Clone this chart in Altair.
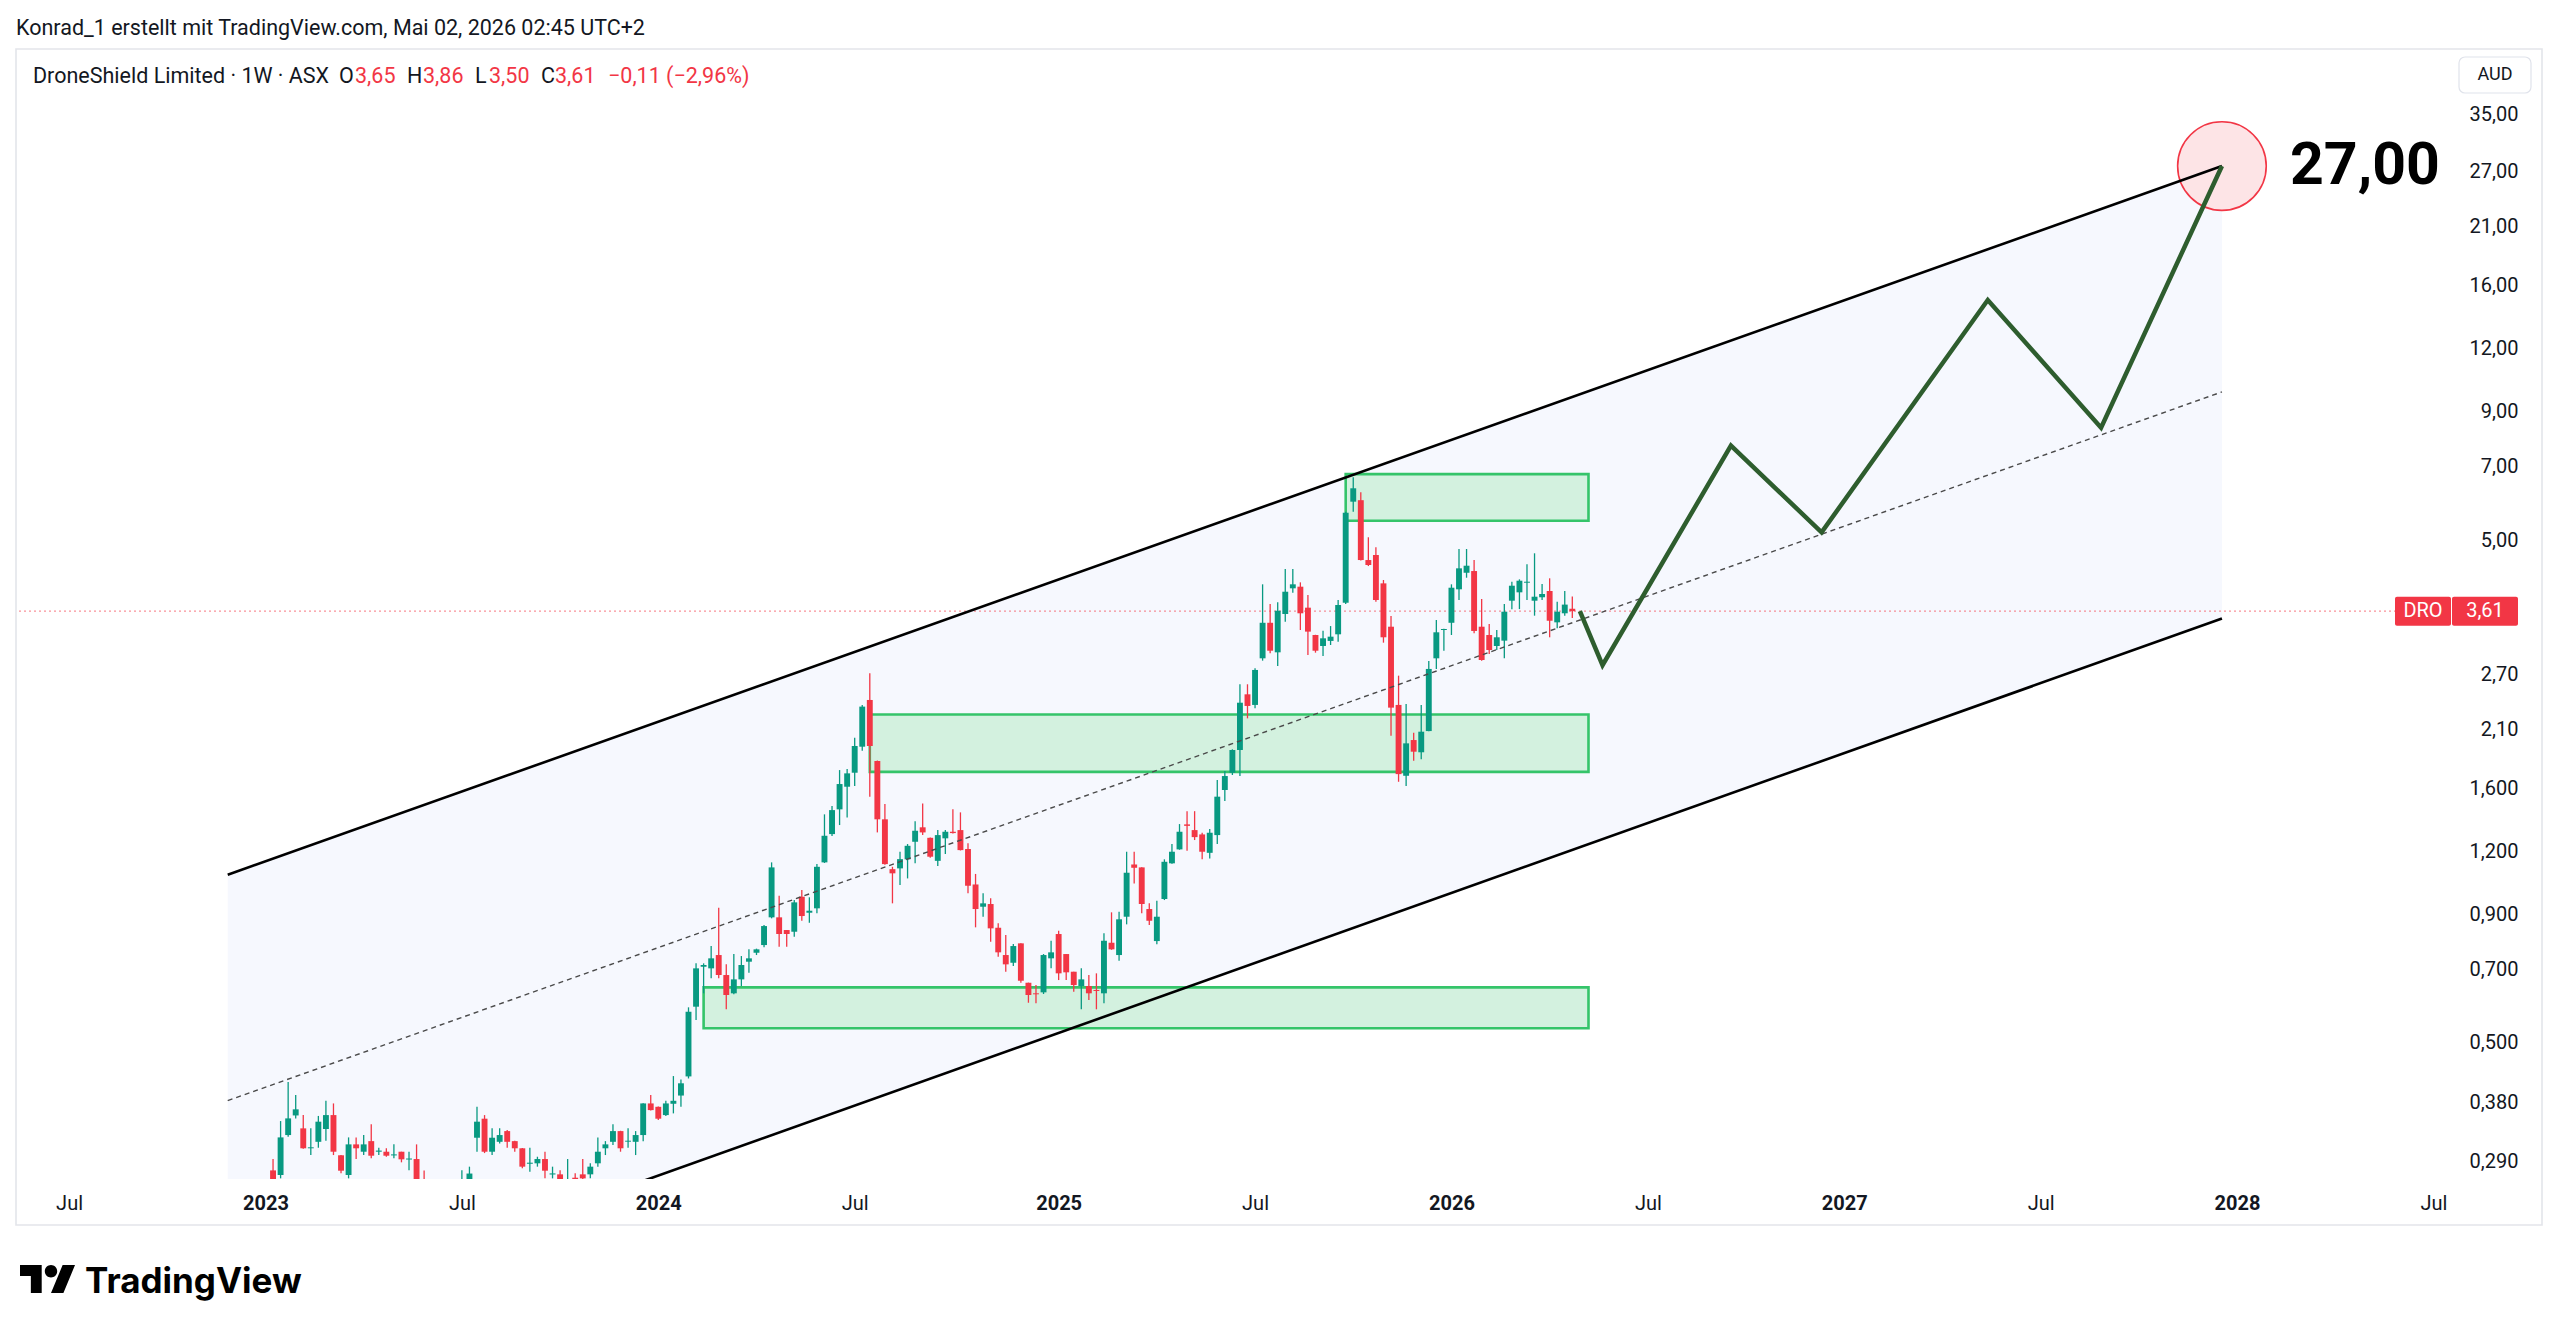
import altair as alt
import numpy as np
import pandas as pd

# ------------------------------------------------------------------ data
first_week = "2023-01-09"  # weekly bars, one per Monday

opens = [
    0.279, 0.2732, 0.328, 0.3588, 0.3382, 0.3087, 0.318, 0.3372, 0.3594, 0.299,
    0.2732, 0.3143, 0.3039, 0.319, 0.3039, 0.3039, 0.2988, 0.3039, 0.2932, 0.2939,
    0.262, 0.252, 0.248, 0.245, 0.252, 0.255, 0.262, 0.324, 0.3535, 0.3039,
    0.318, 0.334, 0.319, 0.3087, 0.2876, 0.2882, 0.2939, 0.2738, 0.274, 0.262,
    0.2698, 0.274, 0.274, 0.2882, 0.3087, 0.318, 0.334, 0.3182, 0.318, 0.328,
    0.3791, 0.3733, 0.3594, 0.3785, 0.393, 0.429, 0.5903, 0.7088, 0.7036, 0.7478,
    0.6824, 0.6276, 0.669, 0.7253, 0.7557, 0.7828, 0.8887, 0.8887, 0.8385, 0.832,
    0.9766, 0.9076, 0.9261, 1.143, 1.301, 1.457, 1.616, 1.723, 1.941, 2.404,
    1.818, 1.392, 1.108, 1.112, 1.159, 1.256, 1.342, 1.279, 1.151, 1.276,
    1.315, 1.325, 1.215, 1.033, 0.9329, 0.9445, 0.8473, 0.7478, 0.7219, 0.7889,
    0.6587, 0.6276, 0.6304, 0.7366, 0.8233, 0.7512, 0.6928, 0.6488, 0.6488, 0.6371,
    0.6276, 0.7911, 0.7478, 0.8912, 1.132, 1.117, 0.9231, 0.7972, 0.9664, 1.138,
    1.213, 1.36, 1.325, 1.299, 1.194, 1.295, 1.592, 1.723, 1.912, 2.467,
    2.35, 2.909, 3.423, 2.99, 3.563, 4.008, 4.038, 3.668, 3.237, 3.078,
    3.15, 3.247, 3.752, 5.959, 6.0, 4.562, 4.668, 4.1, 3.362, 2.35,
    1.699, 2.001, 1.892, 2.085, 2.909, 3.312, 3.423, 3.99, 4.304, 4.338,
    3.362, 3.237, 3.078, 3.154, 3.787, 3.935, 4.112, 3.787, 3.847, 3.959,
    3.43, 3.575, 3.65,
]
highs = [
    0.294, 0.3497, 0.4184, 0.3939, 0.3594, 0.3382, 0.358, 0.3837, 0.3791, 0.2995,
    0.3245, 0.3245, 0.328, 0.3448, 0.3095, 0.3087, 0.3143, 0.3039, 0.3039, 0.3143,
    0.279, 0.262, 0.258, 0.258, 0.262, 0.2793, 0.2838, 0.3733, 0.3594, 0.3382,
    0.3382, 0.3355, 0.3195, 0.3092, 0.3095, 0.297, 0.3039, 0.2838, 0.2793, 0.2939,
    0.2753, 0.2939, 0.2882, 0.3245, 0.319, 0.3448, 0.3345, 0.3382, 0.334, 0.3795,
    0.3939, 0.3738, 0.3837, 0.4297, 0.4231, 0.5886, 0.7199, 0.7199, 0.7792, 0.9286,
    0.7166, 0.7512, 0.7444, 0.7676, 0.770, 0.8579, 1.143, 0.9811, 0.839, 0.9619,
    1.007, 0.974, 1.134, 1.424, 1.479, 1.744, 1.752, 2.022, 2.35, 2.717,
    1.822, 1.493, 1.12, 1.2, 1.243, 1.379, 1.497, 1.281, 1.325, 1.325,
    1.457, 1.437, 1.247, 1.084, 0.9919, 0.9694, 0.8645, 0.8196, 0.7864, 0.7895,
    0.659, 0.6518, 0.7512, 0.7983, 0.8358, 0.7515, 0.693, 0.7036, 0.6824, 0.6877,
    0.8259, 0.9093, 0.9118, 1.2, 1.2, 1.118, 0.9475, 0.9588, 1.159, 1.243,
    1.362, 1.445, 1.445, 1.309, 1.331, 1.666, 1.736, 1.918, 2.583, 2.583,
    2.78, 4.082, 3.73, 3.759, 4.378, 4.378, 4.119, 3.887, 3.24, 3.301,
    3.372, 3.799, 5.692, 6.663, 6.221, 5.063, 4.836, 4.163, 3.531, 2.687,
    2.36, 2.069, 2.35, 2.874, 3.466, 3.33, 4.082, 4.798, 4.798, 4.562,
    3.817, 3.403, 3.312, 3.73, 4.131, 4.176, 4.473, 4.705, 4.088, 4.196,
    3.77, 3.959, 3.86,
]
lows = [
    0.262, 0.269, 0.3254, 0.354, 0.308, 0.2993, 0.3095, 0.3195, 0.2993, 0.2753,
    0.269, 0.2939, 0.2993, 0.2948, 0.2993, 0.297, 0.2948, 0.2895, 0.2793, 0.255,
    0.248, 0.242, 0.238, 0.24, 0.245, 0.25, 0.256, 0.3039, 0.302, 0.2993,
    0.3157, 0.3095, 0.3039, 0.2817, 0.2774, 0.2838, 0.269, 0.269, 0.258, 0.258,
    0.262, 0.262, 0.269, 0.2838, 0.2993, 0.3133, 0.3039, 0.3095, 0.2993, 0.319,
    0.3672, 0.3513, 0.358, 0.3622, 0.3733, 0.425, 0.5553, 0.6276, 0.6721, 0.6721,
    0.5833, 0.625, 0.6488, 0.6896, 0.7478, 0.7746, 0.8846, 0.7768, 0.7768, 0.8133,
    0.8749, 0.8669, 0.9051, 1.14, 1.289, 1.356, 1.404, 1.621, 1.906, 1.544,
    1.311, 1.13, 0.9475, 1.03, 1.062, 1.138, 1.295, 1.168, 1.124, 1.187,
    1.305, 1.207, 0.9919, 0.8489, 0.8912, 0.7947, 0.7421, 0.6928, 0.7111, 0.6587,
    0.6011, 0.5995, 0.6256, 0.7036, 0.6669, 0.6669, 0.6322, 0.5833, 0.6086, 0.5833,
    0.5995, 0.766, 0.7286, 0.8606, 1.038, 0.9051, 0.8579, 0.7853, 0.9619, 1.136,
    1.211, 1.205, 1.266, 1.159, 1.164, 1.243, 1.513, 1.705, 1.697, 2.21,
    2.314, 2.878, 2.977, 2.809, 3.439, 3.928, 3.312, 2.954, 2.985, 2.94,
    3.092, 3.14, 3.73, 5.692, 4.55, 4.438, 3.77, 3.125, 2.041, 1.653,
    1.621, 1.82, 1.832, 2.083, 2.771, 3.012, 3.237, 3.799, 4.207, 3.262,
    2.878, 2.967, 3.022, 2.909, 3.641, 3.644, 3.799, 3.536, 3.799, 3.203,
    3.337, 3.536, 3.50,
]
closes = [
    0.265, 0.3245, 0.354, 0.369, 0.3087, 0.3101, 0.3487, 0.3594, 0.3039, 0.2786,
    0.3143, 0.3087, 0.3143, 0.2984, 0.3055, 0.2984, 0.3002, 0.2935, 0.2946, 0.262,
    0.252, 0.248, 0.245, 0.252, 0.258, 0.266, 0.275, 0.3487, 0.3039, 0.324,
    0.328, 0.318, 0.3087, 0.2838, 0.289, 0.2939, 0.2786, 0.2752, 0.262, 0.268,
    0.2675, 0.269, 0.2838, 0.3039, 0.3143, 0.334, 0.3087, 0.3196, 0.328, 0.3791,
    0.3677, 0.3535, 0.3791, 0.3837, 0.4157, 0.5768, 0.7036, 0.7144, 0.7366, 0.6824,
    0.6227, 0.669, 0.7144, 0.7366, 0.7676, 0.8539, 1.117, 0.8233, 0.8233, 0.9518,
    0.894, 0.916, 1.12, 1.291, 1.452, 1.636, 1.718, 1.947, 2.332, 1.947,
    1.392, 1.134, 1.087, 1.16, 1.233, 1.321, 1.311, 1.173, 1.295, 1.315,
    1.307, 1.209, 1.027, 0.9231, 0.9475, 0.845, 0.7571, 0.7166, 0.7792, 0.6648,
    0.6227, 0.6248, 0.7478, 0.7571, 0.6877, 0.6909, 0.6518, 0.669, 0.6276, 0.6342,
    0.7983, 0.7676, 0.8807, 1.09, 1.115, 0.9445, 0.8749, 0.8912, 1.146, 1.2,
    1.315, 1.351, 1.283, 1.2, 1.309, 1.544, 1.697, 1.912, 2.374, 2.339,
    2.758, 3.423, 3.012, 3.617, 3.946, 4.082, 3.575, 3.287, 3.012, 3.188,
    3.212, 3.713, 5.665, 6.336, 4.562, 4.459, 3.799, 3.203, 2.321, 1.712,
    1.971, 1.897, 2.079, 2.771, 3.277, 3.327, 4.019, 4.392, 4.445, 3.297,
    2.887, 3.022, 3.203, 3.601, 4.056, 4.15, 4.131, 3.857, 3.905, 3.455,
    3.601, 3.72, 3.61,
]

# parallel channel (drawn by the author)
chan_dates = ["2022-11-28", "2027-12-20"]
chan_upper = [1.08, 27.7]
chan_mid = [0.384, 9.85]
chan_lower = [0.135, 3.49]

# green zones
zone_start = ["2024-02-12", "2024-07-15", "2025-09-29"]
zone_end = ["2026-05-12", "2026-05-12", "2026-05-12"]
zone_top = [0.645, 2.25, 6.76]
zone_bottom = [0.535, 1.73, 5.46]

# projected path
path_dates = ["2026-05-04", "2026-05-25", "2026-09-21", "2026-12-14",
              "2027-05-17", "2027-08-30", "2027-12-20"]
path_prices = [3.61, 2.82, 7.70, 5.18, 15.0, 8.36, 27.7]

target_date = "2027-12-20"
target_price = 27.7
target_label = "27,00"

y_tick_values = [35, 27, 21, 16, 12, 9, 7, 5, 2.7, 2.1, 1.6, 1.2, 0.9, 0.7, 0.5, 0.38, 0.29]
x_tick_dates = ["2022-07-04", "2023-01-02", "2023-07-03", "2024-01-01", "2024-07-01",
                "2025-01-06", "2025-07-07", "2026-01-05", "2026-07-06", "2027-01-04",
                "2027-07-05", "2028-01-03", "2028-07-03"]

header_text = "Konrad_1 erstellt mit TradingView.com, Mai 02, 2026 02:45 UTC+2"
symbol_text = "DroneShield Limited · 1W · ASX"

# ------------------------------------------------------------------ style
FONT = "Roboto"
TXT = "#131722"
RED = "#f23645"
GREEN = "#089981"
W, H = 2435, 1130
HDR = 21.5


def ms(d):
    return int(pd.Timestamp(d, tz="UTC").value // 10**6)


def de(v):
    return f"{v:.2f}".replace(".", ",")


candles = pd.DataFrame({
    "date": pd.date_range(first_week, periods=len(opens), freq="7D").strftime("%Y-%m-%d"),
    "open": opens, "high": highs, "low": lows, "close": closes,
})
candles["dir"] = np.where(candles["close"] >= candles["open"], "up", "down")
last = candles.iloc[[-1]].copy()
last["tag"] = de(closes[-1])
last["sym"] = "DRO"

chan_df = pd.DataFrame({"date": chan_dates, "upper": chan_upper, "mid": chan_mid, "lower": chan_lower})
edges_df = pd.concat([
    pd.DataFrame({"date": chan_dates, "price": chan_upper, "edge": "upper"}),
    pd.DataFrame({"date": chan_dates, "price": chan_lower, "edge": "lower"}),
])
zone_df = pd.DataFrame({"start": zone_start, "end": zone_end, "top": zone_top, "bottom": zone_bottom})
path_df = pd.DataFrame({"date": path_dates, "price": path_prices})
target_df = pd.DataFrame({"date": [target_date], "price": [target_price], "label": [target_label]})

x_scale = alt.Scale(type="utc", domain=[ms("2022-05-20T10:34"), ms("2028-07-14T15:07")])
y_scale = alt.Scale(type="log", domain=[0.26822, 47.34], nice=False)

x_axis = alt.Axis(
    values=[ms(d) for d in x_tick_dates],
    labelExpr="utcmonth(datum.value) == 6 ? 'Jul' : utcFormat(datum.value, '%Y')",
    labelFontWeight={"condition": {"test": "utcmonth(datum.value) != 6", "value": "bold"}, "value": "normal"},
    title=None, grid=False, domain=False, ticks=False, tickSize=0,
    labelPadding=24, labelBaseline="middle", labelFontSize=20, labelColor=TXT,
    labelFont=FONT, labelOverlap=False, labelFlush=False,
)
y_axis = alt.Axis(
    orient="right", values=y_tick_values,
    labelExpr="replace(format(datum.value, datum.value < 2 ? '.3f' : '.2f'), '.', ',')",
    title=None, grid=False, domain=False, ticks=False, tickSize=0,
    labelPadding=67, labelAlign="right", labelFontSize=20, labelColor=TXT,
    labelFont=FONT, labelOverlap=False, labelFlush=False,
)


def X(f):
    return alt.X(f, type="temporal", scale=x_scale, axis=x_axis)


def Y(f):
    return alt.Y(f, type="quantitative", scale=y_scale, axis=y_axis)


one = pd.DataFrame({"t": [""]})


def text_at(text, x, y, **kw):
    style = dict(font=FONT, fontSize=20, color=TXT, align="left", baseline="middle")
    style.update(kw)
    return alt.Chart(pd.DataFrame({"t": [text]})).mark_text(**style).encode(
        x=alt.value(x), y=alt.value(y), text="t:N")


dir_color = alt.Color("dir:N", scale=alt.Scale(domain=["up", "down"], range=[GREEN, RED]), legend=None)

layers = []
# pane border
layers.append(alt.Chart(one).mark_rect(fill="white", fillOpacity=0, stroke="#e3e5ea", strokeWidth=1.6).encode(
    x=alt.value(0), x2=alt.value(2526), y=alt.value(0), y2=alt.value(1176)))
# channel fill
layers.append(alt.Chart(chan_df).mark_area(color="#f6f8fe", clip=True).encode(
    x=X("date"), y=Y("lower"), y2=alt.Y2("upper")))
# zones
layers.append(alt.Chart(zone_df).mark_rect(fill="#d3f1df", stroke="#35c46a", strokeWidth=2.6, clip=True).encode(
    x=X("start"), x2=alt.X2("end"), y=Y("top"), y2=alt.Y2("bottom")))
# current price dotted line
layers.append(alt.Chart(last).mark_rule(color=RED, strokeDash=[2, 3], strokeWidth=1.2, opacity=0.55).encode(
    y=Y("close")))
# candles
layers.append(alt.Chart(candles).mark_rule(strokeWidth=1.3, clip=True).encode(
    x=X("date"), y=Y("low"), y2=alt.Y2("high"), color=dir_color))
layers.append(alt.Chart(candles).mark_bar(size=5.9, clip=True).encode(
    x=X("date"), y=Y("open"), y2=alt.Y2("close"), color=dir_color))
# target circle
layers.append(alt.Chart(target_df).mark_point(shape="circle", size=7850, fill="#fde4e6", fillOpacity=1,
                                              stroke=RED, strokeWidth=1.6, opacity=1).encode(
    x=X("date"), y=Y("price")))
# mid dashed line
layers.append(alt.Chart(chan_df).mark_line(color="#4a4a4a", strokeDash=[5, 4], strokeWidth=1.4, clip=True).encode(
    x=X("date"), y=Y("mid")))
# channel edges
layers.append(alt.Chart(edges_df).mark_line(color="#000000", strokeWidth=2.6, clip=True).encode(
    x=X("date"), y=Y("price"), detail="edge:N"))
# projection
layers.append(alt.Chart(path_df).mark_line(color="#2e5d2e", strokeWidth=4.5).encode(
    x=X("date"), y=Y("price")))
# target label
layers.append(alt.Chart(target_df).mark_text(align="left", baseline="middle", dx=68, fontSize=59,
                                             fontWeight="bold", font=FONT, color="#000000").encode(
    x=X("date"), y=Y("price"), text="label:N"))
# price tag
layers.append(alt.Chart(last).mark_rect(color=RED, yOffset=-14.5, y2Offset=14.5, cornerRadius=2).encode(
    x=alt.value(2379), x2=alt.value(2435), y=Y("close"), y2=alt.Y2("close")))
layers.append(alt.Chart(last).mark_rect(color=RED, yOffset=-14.5, y2Offset=14.5, cornerRadius=2).encode(
    x=alt.value(2436), x2=alt.value(2502), y=Y("close"), y2=alt.Y2("close")))
layers.append(alt.Chart(last).mark_text(color="white", font=FONT, fontSize=20, align="center", baseline="middle").encode(
    x=alt.value(2407), y=Y("close"), text="sym:N"))
layers.append(alt.Chart(last).mark_text(color="white", font=FONT, fontSize=20, align="center", baseline="middle").encode(
    x=alt.value(2469), y=Y("close"), text="tag:N"))

# header + legend
layers.append(text_at(header_text, 0, -20, fontSize=HDR))
prev_close = closes[-2]
chg = closes[-1] - prev_close
chg_txt = (f"{chg:+.2f} ({chg / prev_close * 100:+.2f}%)").replace(".", ",").replace("-", "−")
legend_parts = [
    (symbol_text, 17, TXT),
    ("O", 323, TXT), (de(opens[-1]), 339, RED),
    ("H", 391, TXT), (de(highs[-1]), 407, RED),
    ("L", 459, TXT), (de(lows[-1]), 473, RED),
    ("C", 525, TXT), (de(closes[-1]), 539, RED),
    (chg_txt, 592, RED),
]
for t, x, c in legend_parts:
    layers.append(text_at(t, x, 28, color=c, fontSize=HDR))

# AUD button
layers.append(alt.Chart(one).mark_rect(fill="white", stroke="#e0e3eb", strokeWidth=1.2, cornerRadius=6).encode(
    x=alt.value(2443), x2=alt.value(2515), y=alt.value(8), y2=alt.value(44)))
layers.append(text_at("AUD", 2479, 26, align="center", fontSize=18))

# TradingView logo
logo_path = "M-4 9H-11V-2H-18V-9H-4ZM10 9H2L9.5 -9H17.5ZM6 -5A4 4 0 1 1 -2 -5A4 4 0 1 1 6 -5Z"
layers.append(alt.Chart(one).mark_point(shape=logo_path, size=9.61, filled=True, color="#000000", opacity=1).encode(
    x=alt.value(31.9), y=alt.value(1230)))
layers.append(text_at("TradingView", 69, 1244, baseline="alphabetic", fontSize=35, fontWeight="bold",
                      font="Inter", color="#000000"))

chart = alt.layer(*layers).properties(
    width=W, height=H,
    padding={"left": 16, "top": 49, "right": 2560 - 16 - W, "bottom": 1334 - 49 - H},
    autosize=alt.AutoSizeParams(type="none"),
    background="white",
).configure_view(stroke=None)

chart.save("out.html", embed_options={"renderer": "svg", "actions": False})
